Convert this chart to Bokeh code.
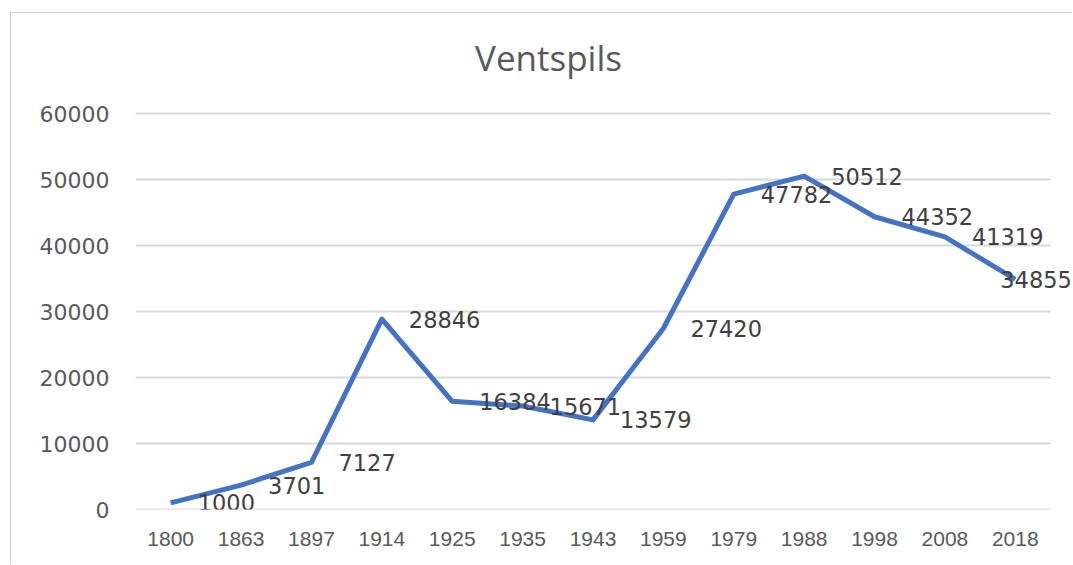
from bokeh.plotting import figure
from bokeh.models import ColumnDataSource, LabelSet, Label, Range1d
from bokeh.core.properties import value
from bokeh.embed import file_html
from bokeh.resources import INLINE

title_text = "Ventspils"
years = ["1800", "1863", "1897", "1914", "1925", "1935", "1943", "1959", "1979", "1988", "1998", "2008", "2018"]
population = [1000, 3701, 7127, 28846, 16384, 15671, 13579, 27420, 47782, 50512, 44352, 41319, 34855]
y_ticks = [0, 10000, 20000, 30000, 40000, 50000, 60000]

# label placement style (Excel pushed the last label inside the chart area)
label_offsets = [27] * (len(years) - 1) + [-15]

xs = [i + 0.5 for i in range(len(years))]
src = ColumnDataSource(dict(x=xs, value=population, label=[str(v) for v in population],
                            dx=label_offsets))

W, H = 1062, 552
p = figure(width=W, height=H, x_range=Range1d(0, 13.327), y_range=Range1d(0, 75152),
           output_backend="svg", toolbar_location=None,
           min_border_left=124, min_border_right=0, min_border_top=0, min_border_bottom=56)
p.styles = {"margin-left": "10px", "margin-top": "12px",
            "border-left": "1px solid #d2d2d2", "border-top": "1px solid #d2d2d2"}
p.outline_line_color = None
p.background_fill_color = "white"
p.border_fill_color = "white"

# horizontal gridlines spanning only the category area
p.segment(x0=0, x1=len(years), y0=y_ticks, y1=y_ticks, line_color="#d9d9d9", line_width=2)

p.line("x", "value", source=src, line_color="#4472C4", line_width=5, line_join="round")

labels = LabelSet(x="x", y="value", text="label", source=src, x_offset="dx",
                  text_baseline="middle", text_align="left", text_font=value("DejaVu Sans"),
                  text_font_size=value("22.5px"), text_color="#404040")
p.add_layout(labels)

p.add_layout(Label(x=5.868, y=68485, text=title_text, text_align="center", text_baseline="middle",
                   text_font="Open Sans", text_font_size="35px", text_color="#595959"))

p.yaxis.ticker = y_ticks
p.yaxis.axis_line_color = None
p.yaxis.major_tick_line_color = None
p.yaxis.minor_tick_line_color = None
p.yaxis.major_label_standoff = 20
p.yaxis.major_label_text_font = "DejaVu Sans"
p.yaxis.major_label_text_font_size = "22px"
p.yaxis.major_label_text_color = "#595959"

p.xaxis.ticker = xs
p.xaxis.major_label_overrides = {x: y for x, y in zip(xs, years)}
p.xaxis.axis_line_color = None
p.xaxis.major_tick_line_color = None
p.xaxis.minor_tick_line_color = None
p.xaxis.major_label_standoff = 16
p.xaxis.major_label_text_font = "Liberation Sans"
p.xaxis.major_label_text_font_size = "21px"
p.xaxis.major_label_text_color = "#595959"

p.xgrid.grid_line_color = None
p.ygrid.grid_line_color = None

open("out.html", "w").write(file_html(p, INLINE))
